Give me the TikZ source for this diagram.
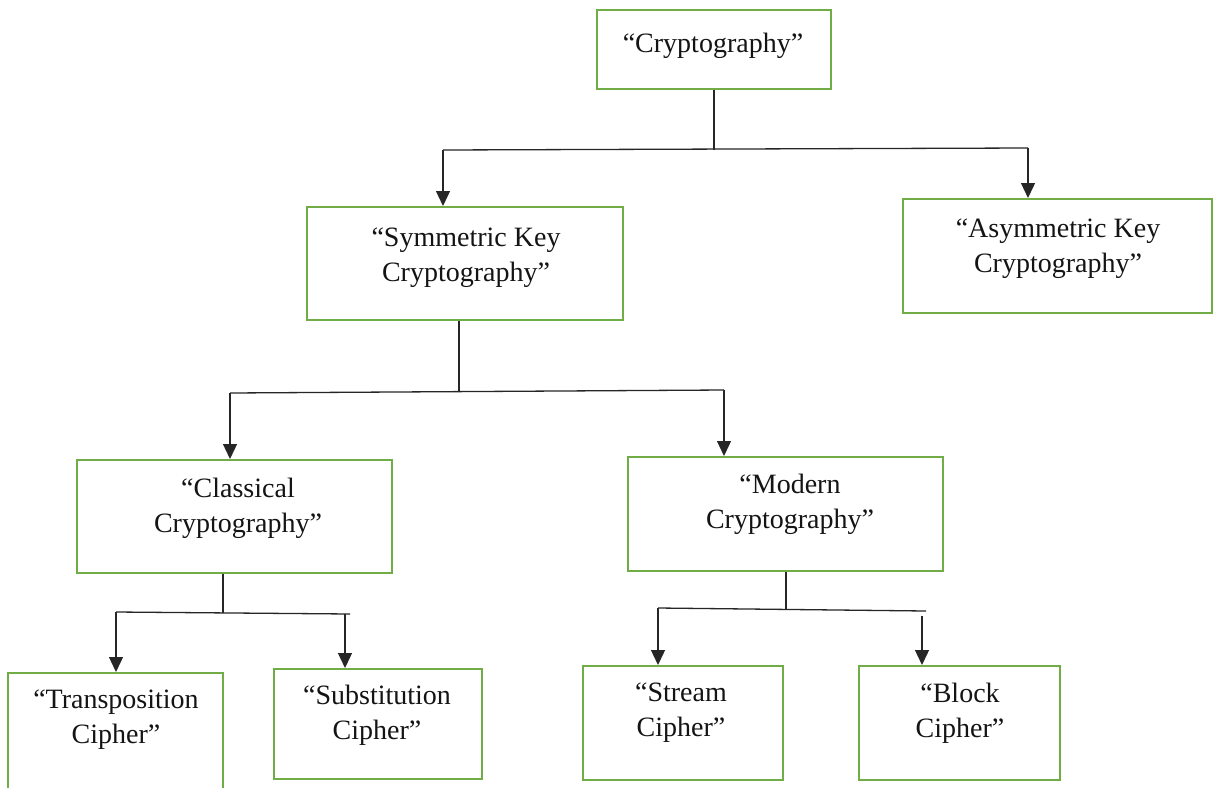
\documentclass[tikz,border=0pt]{standalone}
\usepackage{fontspec}
\setmainfont{Liberation Serif}
\usetikzlibrary{arrows.meta}
\definecolor{boxgreen}{RGB}{112,173,71}
\begin{document}
\begin{tikzpicture}[x=1pt,y=-1pt,
  box/.style={draw=boxgreen, line width=2pt, fill=white, inner sep=0pt},
  lbl/.style={align=center, font=\fontsize{28}{35}\selectfont, text=black!92},
  conn/.style={draw=black!85, line width=1.3pt},
  arr/.style={conn, -{Triangle[length=15pt,width=14pt]}}]
\useasboundingbox (0,0) rectangle (1214,787);
\fill[white] (0,0) rectangle (1214,787);

% boxes
\node[box, minimum width=234pt, minimum height=79pt] (crypto) at (714,49.5) {};
\node[lbl] (cryptoT) at (713,46) {“Cryptography”};

\node[box, minimum width=316pt, minimum height=113pt] (sym) at (465,263.5) {};
\node[lbl] (symT) at (466,258) {“Symmetric Key\\Cryptography”};

\node[box, minimum width=309pt, minimum height=114pt] (asym) at (1057.5,256) {};
\node[lbl] (asymT) at (1058,249) {“Asymmetric Key\\Cryptography”};

\node[box, minimum width=315pt, minimum height=113pt] (class) at (234.5,516.5) {};
\node[lbl] (classT) at (238,508) {“Classical\\Cryptography”};

\node[box, minimum width=315pt, minimum height=114pt] (modern) at (785.5,514) {};
\node[lbl] (modernT) at (790,504.5) {“Modern\\Cryptography”};

\node[box, minimum width=215pt, minimum height=117pt] (trans) at (115.5,731.5) {};
\node[lbl] (transT) at (116,720) {“Transposition\\Cipher”};

\node[box, minimum width=208pt, minimum height=110pt] (subst) at (378,724) {};
\node[lbl] (substT) at (377,715) {“Substitution\\Cipher”};

\node[box, minimum width=200pt, minimum height=114pt] (stream) at (683,723) {};
\node[lbl] (streamT) at (681,713) {“Stream\\Cipher”};

\node[box, minimum width=201pt, minimum height=114pt] (block) at (959.5,723) {};
\node[lbl] (blockT) at (960,713) {“Block\\Cipher”};

% level 1 connectors
\coordinate (h1l) at (443,150);
\coordinate (h1r) at (1028,148);
\draw[conn] (crypto.south) -- (crypto.south |- h1l);
\draw[conn] (h1l) -- (h1r);
\draw[arr] (h1l) -- (h1l |- sym.north);
\draw[arr] (h1r) -- (h1r |- asym.north);

% level 2 connectors
\coordinate (h2l) at (230,393);
\coordinate (h2m) at (459,391);
\coordinate (h2r) at (724,390);
\draw[conn] (h2m |- sym.south) -- (h2m);
\draw[conn] (h2l) -- (h2r);
\draw[arr] (h2l) -- (h2l |- class.north);
\draw[arr] (h2r) -- (h2r |- modern.north);

% level 3 connectors
\coordinate (h3l) at (116,612);
\coordinate (h3m) at (223,613);
\coordinate (h3e) at (350,614);
\coordinate (h3r) at (345,614);
\draw[conn] (h3m |- class.south) -- (h3m);
\draw[conn] (h3l) -- (h3e);
\draw[arr] (h3l) -- (h3l |- trans.north);
\draw[arr] (h3r) -- (h3r |- subst.north);

% level 4 connectors
\coordinate (h4l) at (658,608);
\coordinate (h4m) at (786,610);
\coordinate (h4e) at (926,611);
\coordinate (h4r) at (922,616);
\draw[conn] (h4m |- modern.south) -- (h4m);
\draw[conn] (h4l) -- (h4e);
\draw[arr] (h4l) -- (h4l |- stream.north);
\draw[arr] (h4r) -- (h4r |- block.north);
\end{tikzpicture}
\end{document}
